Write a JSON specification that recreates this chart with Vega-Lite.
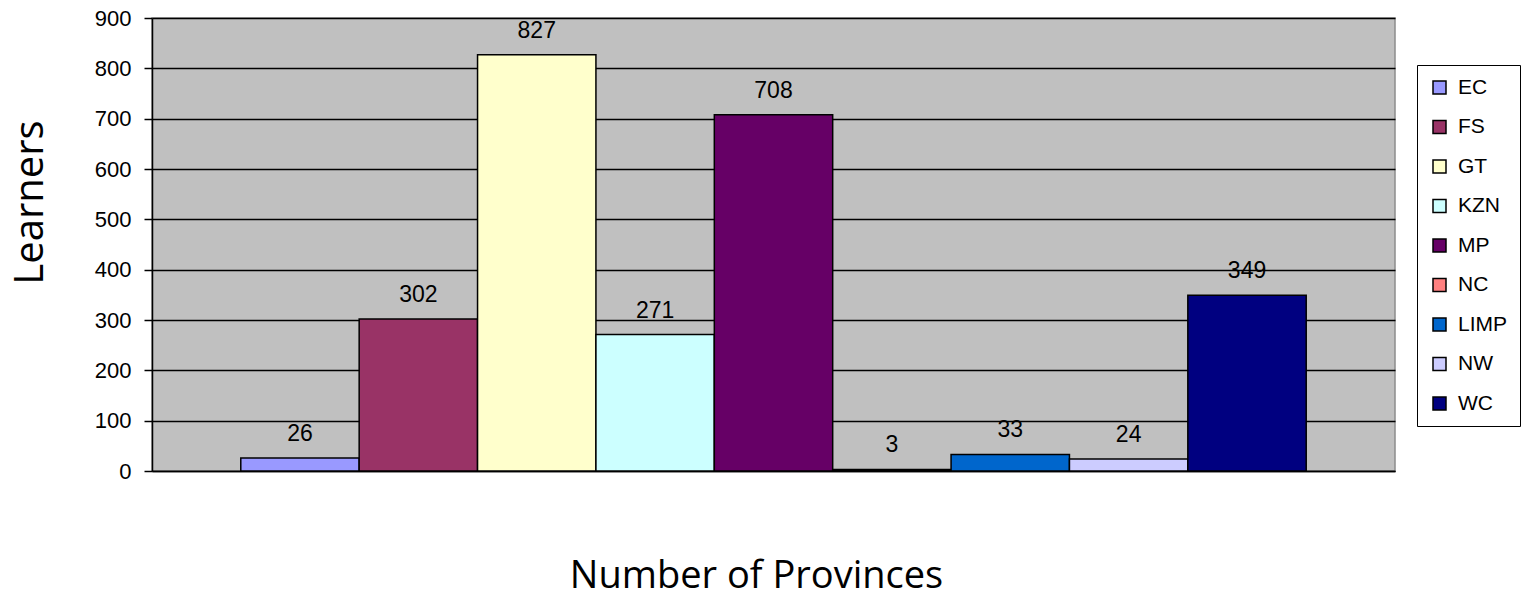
{
  "$schema": "https://vega.github.io/schema/vega-lite/v6.json",
  "width": 1243,
  "height": 453,
  "autosize": {"type": "none"},
  "padding": {"left": 152, "top": 18, "right": 130, "bottom": 127},
  "background": "white",
  "config": {
    "view": {"fill": "#C0C0C0", "stroke": "#8c8c8c", "strokeWidth": 1.5},
    "font": "Liberation Sans",
    "legend": {"strokeColor": "black", "fillColor": "white", "padding": 12}
  },
  "data": {
    "values": [
      {"province": "EC", "learners": 26},
      {"province": "FS", "learners": 302},
      {"province": "GT", "learners": 827},
      {"province": "KZN", "learners": 271},
      {"province": "MP", "learners": 708},
      {"province": "NC", "learners": 3},
      {"province": "LIMP", "learners": 33},
      {"province": "NW", "learners": 24},
      {"province": "WC", "learners": 349}
    ]
  },
  "encoding": {
    "x": {
      "field": "province",
      "type": "nominal",
      "sort": null,
      "scale": {"paddingInner": 0, "paddingOuter": 0.75},
      "axis": {
        "labels": false,
        "ticks": false,
        "domain": true,
        "domainColor": "black",
        "domainWidth": 1.5,
        "title": "Number of Provinces",
        "titleFont": "Open Sans",
        "titleFontSize": 38,
        "titleFontWeight": "normal",
        "titleColor": "black",
        "titleX": 604,
        "titleY": 116,
        "titleAlign": "center",
        "titleBaseline": "alphabetic"
      }
    },
    "y": {
      "field": "learners",
      "type": "quantitative",
      "scale": {"domain": [0, 900], "nice": false},
      "axis": {
        "values": [0, 100, 200, 300, 400, 500, 600, 700, 800, 900],
        "grid": true,
        "gridColor": "black",
        "gridWidth": 1.5,
        "gridOpacity": 1,
        "domainColor": "black",
        "domainWidth": 1.5,
        "tickColor": "black",
        "tickSize": 8,
        "tickWidth": 1.5,
        "labelPadding": 13,
        "labelFontSize": 22,
        "labelColor": "black",
        "labelFont": "Liberation Sans",
        "title": "Learners",
        "titleFont": "Open Sans",
        "titleFontSize": 40,
        "titleFontWeight": "normal",
        "titleColor": "black",
        "titleX": -122,
        "titleY": 184,
        "titleAngle": -90,
        "titleBaseline": "middle",
        "titleAlign": "center"
      }
    }
  },
  "layer": [
    {
      "mark": {"type": "bar", "stroke": "black", "strokeWidth": 1.5},
      "encoding": {
        "color": {
          "field": "province",
          "type": "nominal",
          "sort": null,
          "scale": {
            "domain": ["EC", "FS", "GT", "KZN", "MP", "NC", "LIMP", "NW", "WC"],
            "range": ["#9999FF", "#993366", "#FFFFCC", "#CCFFFF", "#660066", "#FF8080", "#0066CC", "#CCCCFF", "#000080"]
          },
          "legend": {
            "title": null,
            "orient": "none",
            "legendX": 1265,
            "legendY": 47,
            "symbolType": "square",
            "symbolSize": 169,
            "symbolStrokeColor": "black",
            "symbolStrokeWidth": 1.5,
            "symbolOpacity": 1,
            "labelFontSize": 21,
            "labelFont": "Liberation Sans",
            "labelColor": "black",
            "labelOffset": 8,
            "rowPadding": 17.5
          }
        }
      }
    },
    {
      "mark": {"type": "text", "baseline": "alphabetic", "dy": -17, "fontSize": 23, "font": "Liberation Sans", "color": "black"},
      "encoding": {"text": {"field": "learners", "type": "quantitative"}}
    }
  ]
}
